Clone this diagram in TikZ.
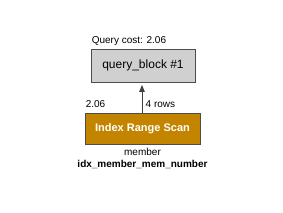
\documentclass[tikz,border=0pt]{standalone}
\usepackage{fontspec}
\setmainfont{Liberation Sans}
\usetikzlibrary{positioning,arrows.meta}
\definecolor{blockgray}{HTML}{D0D0D0}
\definecolor{scangold}{HTML}{C38400}
\begin{document}
\begin{tikzpicture}[x=1pt,y=1pt,
    qblock/.style={draw=black!70,line width=0.8pt,fill=blockgray,minimum width=104pt,minimum height=33pt,font=\fontsize{12}{14}\selectfont},
    scanbox/.style={draw=black!70,line width=0.8pt,fill=scangold,minimum width=115pt,minimum height=31pt,text=white,font=\fontsize{11}{13}\selectfont\bfseries},
    lbl/.style={inner sep=0pt,font=\fontsize{10}{12}\selectfont}]
    \useasboundingbox (0,0) rectangle (283,213);             % Page frame
    \node[qblock] (qb) at (143,147.5) {query\_block \#1};     % Query block
    \node[scanbox] (irs) at (142.5,84.5) {Index Range Scan};  % Index scan
    \coordinate (foot) at (irs.north -| 142,0);               % Arrow start
    \coordinate (head) at (qb.south -| 142,0);                % Arrow end
    \node[lbl,above right=5.5pt and 1pt of qb.north west,anchor=base west] (cost) {Query cost: 2.06};
    \node[lbl,above right=5.5pt and 1pt of irs.north west,anchor=base west] (scost) {2.06};
    \node[lbl,below=11pt of irs.south,anchor=base] (tbl) {member};   % Table name
    \node[lbl,below=12.3pt of tbl.base,anchor=base,font=\fontsize{10}{12}\selectfont\bfseries] (idx) {idx\_member\_mem\_number};
    \draw[black!75,line width=0.9pt,-{Triangle[length=7pt,width=5.5pt]},shorten >=2.5pt] (foot) -- (head);
    \node[lbl,above right=5.5pt and 3.5pt of foot,anchor=base west] (rows) {4 rows};
\end{tikzpicture}
\end{document}
